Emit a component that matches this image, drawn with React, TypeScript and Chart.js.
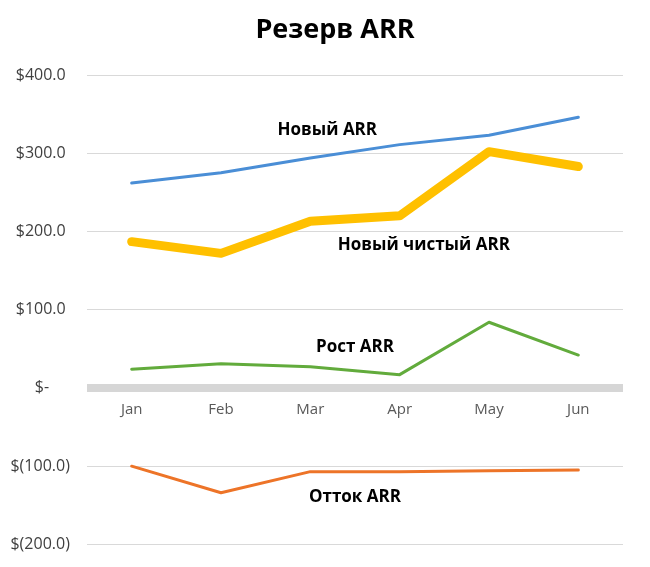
import React, { useEffect, useRef } from 'react';
import { Chart, registerables, ChartConfiguration, Plugin } from 'chart.js';

Chart.register(...registerables);

const months = ['Jan', 'Feb', 'Mar', 'Apr', 'May', 'Jun'];
const newArr = [262, 275, 294, 311, 323, 346];
const netNewArr = [187, 172, 213, 220, 302, 283];
const arrGrowth = [24, 31, 27, 17, 84, 42];
const churnArr = [-100, -134, -107, -107, -106, -105];
const yTicks = [-200, -100, 0, 100, 200, 300, 400];
const chartTitle = 'Резерв ARR';

// series name labels, placed in data space (category index, value)
const seriesLabels = [
  { text: 'Новый ARR', at: 2.19, value: 330 },
  { text: 'Новый чистый ARR', at: 3.27, value: 183 },
  { text: 'Рост ARR', at: 2.5, value: 52 },
  { text: 'Отток ARR', at: 2.5, value: -140 },
];

const FONT = '"Open Sans", "Noto Sans", sans-serif';

// accounting style, trailing spaces keep the digits lined up
const formatMoney = (v: number) => {
  if (v === 0) return '$-      ';
  if (v < 0) return `$(${Math.abs(v).toFixed(1)}) `;
  return `$${v.toFixed(1)}  `;
};

const seriesLabelPlugin: Plugin<'line'> = {
  id: 'seriesLabels',
  afterDatasetsDraw(chart) {
    const { ctx, scales } = chart;
    const x = scales.x;
    const y = scales.y;
    const step = x.getPixelForValue(1) - x.getPixelForValue(0);
    ctx.save();
    ctx.font = `bold 17px ${FONT}`;
    ctx.fillStyle = '#000000';
    ctx.textAlign = 'center';
    ctx.textBaseline = 'middle';
    seriesLabels.forEach(l => {
      const px = x.getPixelForValue(0) + l.at * step;
      ctx.fillText(l.text, px, y.getPixelForValue(l.value));
    });
    ctx.restore();
  },
};

// title sits a little right of the canvas centre, as in the original slide
const titlePlugin: Plugin<'line'> = {
  id: 'slideTitle',
  afterDraw(chart) {
    const { ctx } = chart;
    ctx.save();
    ctx.font = `bold 27px ${FONT}`;
    ctx.fillStyle = '#000000';
    ctx.textAlign = 'center';
    ctx.textBaseline = 'middle';
    ctx.fillText(chartTitle, chart.width / 2 + 10, 30);
    ctx.restore();
  },
};

const App: React.FC = () => {
  const canvasRef = useRef<HTMLCanvasElement>(null);
  const chartRef = useRef<Chart | null>(null);

  useEffect(() => {
    if (!canvasRef.current) return;
    document.body.style.margin = '0';

    if (chartRef.current) {
      chartRef.current.destroy();
    }

    const line = (label: string, data: number[], color: string, width: number) => ({
      label,
      data,
      borderColor: color,
      backgroundColor: color,
      borderWidth: width,
      borderCapStyle: 'round' as const,
      borderJoinStyle: 'round' as const,
      pointRadius: 0,
      tension: 0,
    });

    const config: ChartConfiguration<'line'> = {
      type: 'line',
      data: {
        labels: months,
        datasets: [
          line('Новый ARR', newArr, '#4a8ed6', 3),
          line('Новый чистый ARR', netNewArr, '#ffc000', 9),
          line('Рост ARR', arrGrowth, '#62ab3c', 3),
          line('Отток ARR', churnArr, '#ed7428', 3),
        ],
      },
      options: {
        responsive: true,
        maintainAspectRatio: false,
        animation: false,
        layout: {
          padding: { top: 75, left: 0, right: 27, bottom: 12 },
        },
        plugins: {
          legend: { display: false },
          tooltip: { enabled: false },
          title: { display: false },
        },
        scales: {
          x: {
            position: { y: 0 },
            offset: true,
            afterFit: scale => {
              // labels hang off the zero line, so the axis needs no room of its own
              scale.height = 0;
            },
            grid: { display: false, drawTicks: false },
            border: { display: false },
            ticks: {
              color: '#595959',
              padding: 13,
              font: { family: FONT, size: 15 },
            },
          },
          y: {
            min: -200,
            max: 400,
            afterFit: scale => {
              scale.width = 87;
            },
            afterBuildTicks: scale => {
              scale.ticks = yTicks.map(value => ({ value }));
            },
            grid: {
              drawTicks: false,
              color: ctx => (ctx.tick && ctx.tick.value === 0 ? '#d6d6d6' : '#d9d9d9'),
              lineWidth: ctx => (ctx.tick && ctx.tick.value === 0 ? 8 : 1),
            },
            border: { display: false },
            ticks: {
              color: '#404040',
              padding: 13,
              font: { family: FONT, size: 16 },
              callback: value => formatMoney(Number(value)),
            },
          },
        },
      },
      plugins: [seriesLabelPlugin, titlePlugin],
    };

    chartRef.current = new Chart(canvasRef.current, config);

    return () => {
      if (chartRef.current) {
        chartRef.current.destroy();
        chartRef.current = null;
      }
    };
  }, []);

  return (
    <div style={{ position: 'relative', width: 650, height: 567 }}>
      <canvas ref={canvasRef} />
    </div>
  );
};

export default App;
